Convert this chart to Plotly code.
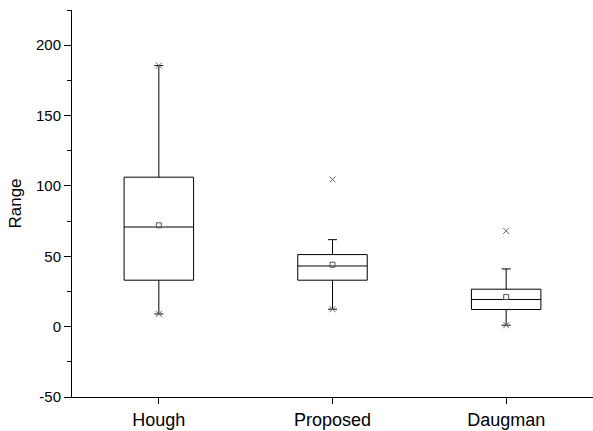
import plotly.graph_objects as go

categories = ["Hough", "Proposed", "Daugman"]
q1 = [33.0, 33.0, 12.2]
median = [70.8, 43.1, 19.3]
q3 = [106.2, 51.2, 26.6]
lower_whisker = [9.0, 12.4, 1.0]
upper_whisker = [185.5, 61.8, 41.0]
mean = [72.0, 44.0, 21.0]
minimum = [9.0, 12.4, 1.0]
maximum = [185.5, 104.6, 68.0]
y_tick_values = [-50, 0, 50, 100, 150, 200]
y_tick_labels = ["-50", "0", "50", "100", "150", "200"]

FONT = "Arial, 'Liberation Sans', sans-serif"

fig = go.Figure()
fig.add_trace(go.Box(
    x=categories, q1=q1, median=median, q3=q3,
    lowerfence=lower_whisker, upperfence=upper_whisker,
    width=0.4, whiskerwidth=0.13,
    line=dict(color="black", width=1), fillcolor="white",
    boxpoints=False, showlegend=False, hoverinfo="skip",
))
fig.add_trace(go.Scatter(
    x=categories, y=mean, mode="markers",
    marker=dict(symbol="square-open", size=5, color="#555555", line=dict(width=1)),
    showlegend=False,
))
fig.add_trace(go.Scatter(
    x=categories + categories, y=minimum + maximum, mode="markers",
    marker=dict(symbol="x-thin-open", size=6, color="#666666", line=dict(width=1)),
    showlegend=False,
))

fig.update_layout(
    width=593, height=431,
    margin=dict(l=72, r=0, t=10, b=34),
    plot_bgcolor="white", paper_bgcolor="white",
    font=dict(family=FONT, color="black"),
    xaxis=dict(
        type="category", range=[-0.5, 2.5],
        showline=True, linecolor="black", linewidth=1,
        ticks="outside", ticklen=6, tickcolor="black",
        showgrid=False, zeroline=False,
        tickfont=dict(size=18, family=FONT),
    ),
    yaxis=dict(
        range=[-50, 225],
        tickmode="array", tickvals=y_tick_values, ticktext=y_tick_labels,
        showline=True, linecolor="black", linewidth=1,
        ticks="outside", ticklen=7, tickcolor="black",
        minor=dict(dtick=25, tick0=0, ticks="outside", ticklen=4, tickcolor="black"),
        showgrid=False, zeroline=False,
        tickfont=dict(size=15, family=FONT),
        title=dict(text="Range", font=dict(size=17, family=FONT), standoff=10),
    ),
)

fig.write_html(
    "out.html",
    config={"displayModeBar": False},
    post_script="document.body.style.margin='0';document.body.style.overflow='hidden';",
)
